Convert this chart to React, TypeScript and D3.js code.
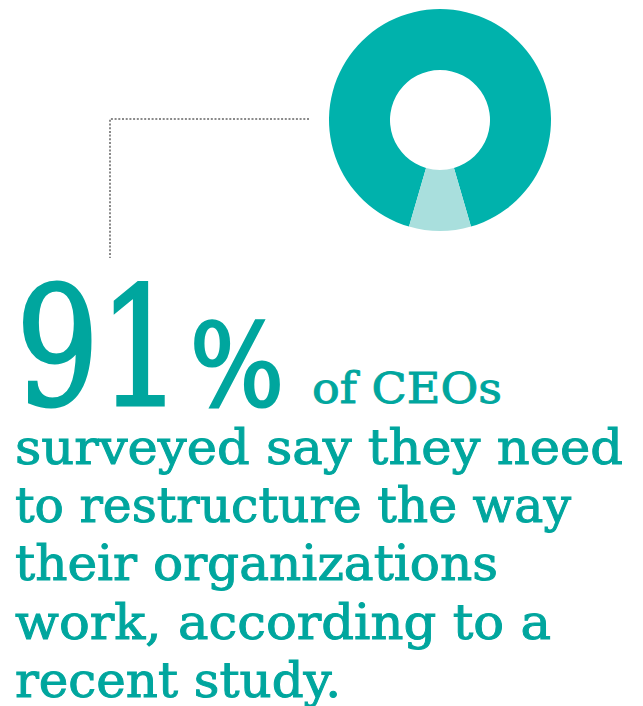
import React, { useEffect, useRef } from 'react';
import * as d3 from 'd3';

// share of CEOs who say they need to restructure
const sliceLabels = ['need to restructure', 'other'];
const sliceValues = [91, 9];
const sliceColors = ['#00B2AC', '#A9DFDD'];

const headline = '91';
const headlineUnit = '%';
const leadIn = 'of CEOs';
const bodyLines = [
  'surveyed say they need',
  'to restructure the way',
  'their organizations',
  'work, according to a',
  'recent study.',
];
// rendered widths of each body line in the reference (px)
const bodyWidths = [608, 556, 483, 536, 326];

const TEXT_COLOR = '#00A69E';
const FONT = '"DejaVu Serif", "Liberation Serif", serif';

const W = 643;
const H = 706;

const Infographic: React.FC = () => {
  const svgRef = useRef<SVGSVGElement>(null);

  useEffect(() => {
    if (!svgRef.current) return;
    const svg = d3.select(svgRef.current);
    svg.selectAll('*').remove();

    // donut
    const cx = 440, cy = 120, outerR = 111, innerR = 50;
    const total = d3.sum(sliceValues);
    const small = sliceValues[1] / total;
    // keep the small slice centered at the bottom
    const start = Math.PI - small * Math.PI - (1 - small) * 2 * Math.PI;
    const pie = d3.pie<number>().sort(null).startAngle(start).endAngle(start + 2 * Math.PI);
    const arc = d3.arc<d3.PieArcDatum<number>>().innerRadius(innerR).outerRadius(outerR);

    const g = svg.append('g').attr('transform', `translate(${cx},${cy})`);
    g.selectAll('path')
      .data(pie(sliceValues))
      .enter().append('path')
      .attr('d', arc)
      .attr('fill', (d, i) => sliceColors[i])
      .append('title')
      .text((d, i) => `${sliceLabels[i]}: ${d.data}%`);

    // dotted leader line
    const leader = d3.line()([[309, 119], [110, 119], [110, 258]]);
    svg.append('path')
      .attr('d', leader)
      .attr('fill', 'none')
      .attr('stroke', '#8a8a8a')
      .attr('stroke-width', 2)
      .attr('stroke-dasharray', '2,1.7');

    // big number
    const big = svg.append('text')
      .attr('x', 16)
      .attr('y', 405)
      .attr('fill', TEXT_COLOR)
      .attr('stroke', TEXT_COLOR)
      .attr('stroke-width', 3)
      .style('font-family', FONT);
    big.append('tspan')
      .style('font-size', '164px')
      .attr('textLength', 166)
      .attr('lengthAdjust', 'spacingAndGlyphs')
      .text(headline);
    big.append('tspan')
      .attr('x', 190)
      .style('font-size', '114px')
      .attr('textLength', 94)
      .attr('lengthAdjust', 'spacingAndGlyphs')
      .text(headlineUnit);

    svg.append('text')
      .attr('x', 312)
      .attr('y', 403)
      .attr('fill', TEXT_COLOR)
      .attr('stroke', TEXT_COLOR)
      .attr('stroke-width', 0.9)
      .style('font-family', FONT)
      .style('font-size', '43px')
      .attr('textLength', 190)
      .attr('lengthAdjust', 'spacingAndGlyphs')
      .text(leadIn);

    svg.selectAll('text.body')
      .data(bodyLines)
      .enter().append('text')
      .attr('class', 'body')
      .attr('x', 15)
      .attr('y', (d, i) => 464 + i * 58.2)
      .attr('fill', TEXT_COLOR)
      .attr('stroke', TEXT_COLOR)
      .attr('stroke-width', 1)
      .style('font-family', FONT)
      .style('font-size', '49px')
      .attr('textLength', (d, i) => bodyWidths[i])
      .attr('lengthAdjust', 'spacingAndGlyphs')
      .text(d => d);
  }, []);

  return (
    <div style={{ position: 'absolute', left: 0, top: 0, width: W, height: H, background: '#fff' }}>
      <svg ref={svgRef} width={W} height={H}></svg>
    </div>
  );
};

export default function App() {
  return <Infographic />;
}
